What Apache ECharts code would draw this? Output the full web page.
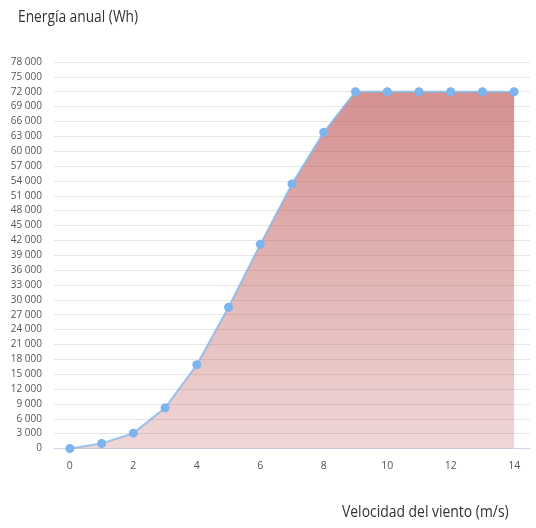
<!DOCTYPE html>
<html>
<head>
<meta charset="utf-8">
<script src="https://cdn.jsdelivr.net/npm/echarts@6/dist/echarts.min.js"></script>
<style>
  html, body { margin: 0; padding: 0; background: #fff; }
  #chart { width: 536px; height: 528px; }
</style>
</head>
<body>
<div id="chart"></div>
<script>
// Wind speed (m/s) and annual energy yield (Wh)
const windSpeed = [0, 1, 2, 3, 4, 5, 6, 7, 8, 9, 10, 11, 12, 13, 14];
const annualEnergy = [0, 1000, 3100, 8200, 16900, 28500, 41200, 53400, 63800, 72000, 72000, 72000, 72000, 72000, 72000];
const speedTicks = [0, 2, 4, 6, 8, 10, 12, 14];

const FONT = '"Open Sans", sans-serif';

const chart = echarts.init(document.getElementById('chart'), null, { renderer: 'canvas' });

const fmtThousands = v => String(v).replace(/\B(?=(\d{3})+(?!\d))/g, ' ');

chart.setOption({
  animation: false,
  backgroundColor: '#ffffff',
  textStyle: { fontFamily: FONT },
  graphic: [
    {
      type: 'text', x: 18, y: 9, scaleX: 0.86,
      style: { text: 'Energía anual (Wh)', fontFamily: FONT, fontSize: 16, fill: '#333333' }
    },
    {
      type: 'text', x: 342, y: 504, scaleX: 0.87,
      style: { text: 'Velocidad del viento (m/s)', fontFamily: FONT, fontSize: 16, fill: '#333333' }
    }
  ],
  grid: { left: 54, right: 6, top: 62, bottom: 79.5, containLabel: false },
  xAxis: {
    type: 'value',
    min: -0.5,
    max: 14.5,
    axisLine: { show: true, lineStyle: { color: '#ccd6eb', width: 1 } },
    axisTick: { show: false },
    splitLine: { show: false },
    axisLabel: {
      customValues: speedTicks,
      color: '#555555',
      fontFamily: FONT,
      fontSize: 10.5,
      margin: 12
    }
  },
  yAxis: {
    type: 'value',
    min: 0,
    max: 78000,
    interval: 3000,
    axisLine: { show: false },
    axisTick: { show: false },
    splitLine: { show: true, lineStyle: { color: '#e6e6e6', width: 1 } },
    axisLabel: {
      color: '#555555',
      fontFamily: FONT,
      fontSize: 10,
      margin: 12,
      formatter: fmtThousands
    }
  },
  series: [{
    type: 'line',
    data: windSpeed.map((s, i) => [s, annualEnergy[i]]),
    symbol: 'circle',
    symbolSize: 9,
    itemStyle: { color: '#7cb5ec' },
    lineStyle: { color: '#7cb5ec', width: 2, opacity: 0.75 },
    areaStyle: {
      opacity: 1,
      color: {
        type: 'linear', x: 0, y: 0, x2: 0, y2: 1,
        colorStops: [
          { offset: 0, color: 'rgba(190,87,87,0.66)' },
          { offset: 1, color: 'rgba(190,87,87,0.24)' }
        ]
      }
    },
    z: 3
  }]
});
</script>
</body>
</html>
